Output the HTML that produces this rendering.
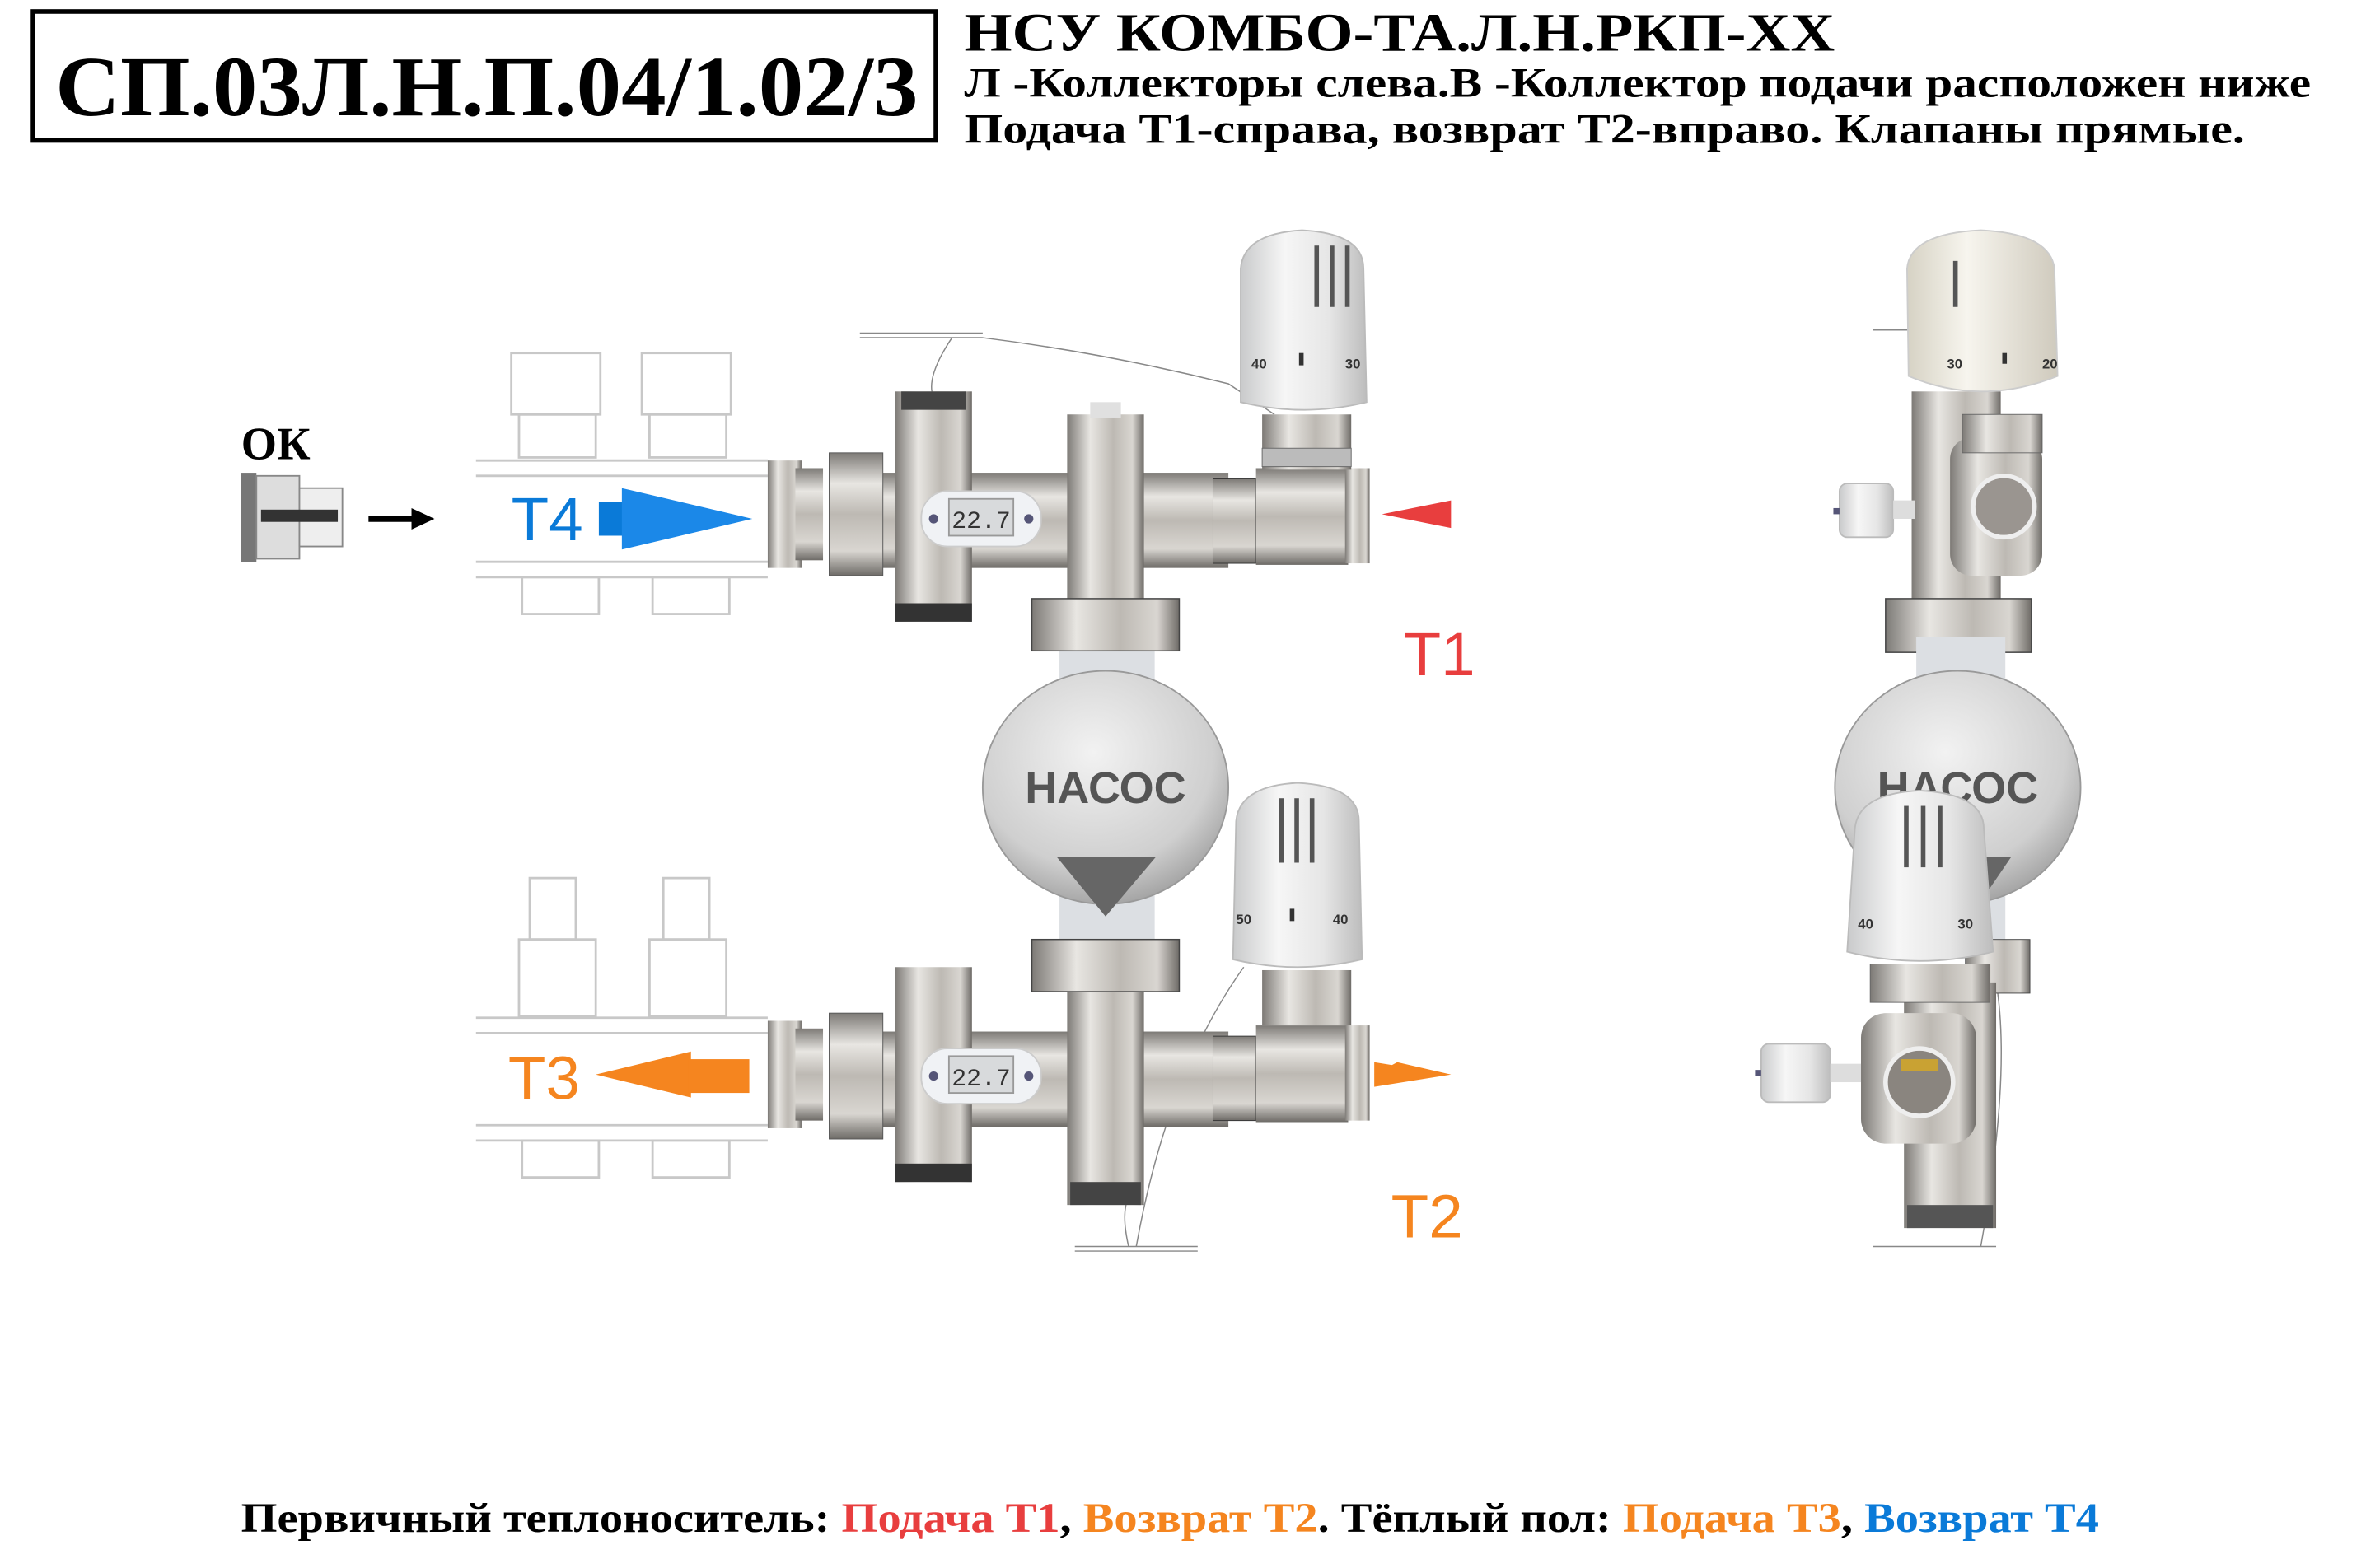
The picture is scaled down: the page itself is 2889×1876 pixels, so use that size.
<!DOCTYPE html>
<html><head><meta charset="utf-8"><style>
html,body{margin:0;padding:0;background:#fff;}
svg{display:block;}
</style></head><body>
<svg width="2889" height="1876" viewBox="0 0 1550 1006.5" preserveAspectRatio="none" xmlns="http://www.w3.org/2000/svg">
<defs>
<linearGradient id="mh" x1="0" y1="0" x2="0" y2="1">
<stop offset="0" stop-color="#7d7a76"/><stop offset="0.25" stop-color="#e8e6e2"/><stop offset="0.5" stop-color="#bdb9b3"/><stop offset="0.8" stop-color="#d9d6d1"/><stop offset="1" stop-color="#6e6b67"/></linearGradient>
<linearGradient id="mv" x1="0" y1="0" x2="1" y2="0">
<stop offset="0" stop-color="#7d7a76"/><stop offset="0.3" stop-color="#e8e6e2"/><stop offset="0.6" stop-color="#bdb9b3"/><stop offset="0.85" stop-color="#d9d6d1"/><stop offset="1" stop-color="#6e6b67"/></linearGradient>
<linearGradient id="wh" x1="0" y1="0" x2="1" y2="0">
<stop offset="0" stop-color="#c9cacb"/><stop offset="0.35" stop-color="#f6f6f6"/><stop offset="0.7" stop-color="#e6e6e6"/><stop offset="1" stop-color="#bdbdbd"/></linearGradient>
<linearGradient id="cr" x1="0" y1="0" x2="1" y2="0">
<stop offset="0" stop-color="#d6d2c4"/><stop offset="0.4" stop-color="#f7f5ee"/><stop offset="1" stop-color="#cfcabd"/></linearGradient>
<radialGradient id="sp" cx="0.45" cy="0.35" r="0.7">
<stop offset="0" stop-color="#f2f2f2"/><stop offset="0.7" stop-color="#cfcfcf"/><stop offset="1" stop-color="#9a9a9a"/></radialGradient>
</defs>

<!-- Header -->
<rect x="21.5" y="7.5" width="588" height="84" fill="#fff" stroke="#000" stroke-width="3"/>
<text x="36" y="75" font-family="Liberation Serif, serif" font-weight="bold" font-size="56" textLength="562" lengthAdjust="spacingAndGlyphs">СП.03Л.Н.П.04/1.02/3</text>
<text x="628" y="33" font-family="Liberation Serif, serif" font-weight="bold" font-size="35" textLength="567" lengthAdjust="spacingAndGlyphs">НСУ КОМБО-ТА.Л.Н.РКП-ХХ</text>
<text x="628" y="63" font-family="Liberation Serif, serif" font-weight="bold" font-size="27" textLength="877" lengthAdjust="spacingAndGlyphs">Л -Коллекторы слева.В -Коллектор подачи расположен ниже</text>
<text x="628" y="93" font-family="Liberation Serif, serif" font-weight="bold" font-size="27" textLength="834" lengthAdjust="spacingAndGlyphs">Подача Т1-справа, возврат Т2-вправо. Клапаны прямые.</text>

<!-- OK -->
<text x="157" y="299" font-family="Liberation Serif, serif" font-weight="bold" font-size="30">ОК</text>
<rect x="157" y="308" width="10" height="58" fill="#777"/>
<rect x="167" y="310" width="28" height="54" fill="#ddd" stroke="#888"/>
<rect x="195" y="318" width="28" height="38" fill="#eee" stroke="#888"/>
<rect x="170" y="332" width="50" height="8" fill="#333"/>
<line x1="240" y1="338" x2="270" y2="338" stroke="#000" stroke-width="4"/>
<polygon points="268,331 283,338 268,345" fill="#000"/>

<!-- faint collectors -->
<g fill="none" stroke="#c8c8c8" stroke-width="1.5">
<rect x="333" y="230" width="58" height="40"/><rect x="338" y="270" width="50" height="28"/>
<rect x="418" y="230" width="58" height="40"/><rect x="423" y="270" width="50" height="28"/>
<line x1="310" y1="300" x2="500" y2="300"/><line x1="310" y1="310" x2="500" y2="310"/>
<line x1="310" y1="366" x2="500" y2="366"/><line x1="310" y1="376" x2="500" y2="376"/>
<rect x="340" y="376" width="50" height="24"/><rect x="425" y="376" width="50" height="24"/>
<rect x="345" y="572" width="30" height="40"/><rect x="338" y="612" width="50" height="50"/>
<rect x="432" y="572" width="30" height="40"/><rect x="423" y="612" width="50" height="50"/>
<line x1="310" y1="663" x2="500" y2="663"/><line x1="310" y1="673" x2="500" y2="673"/>
<line x1="310" y1="733" x2="500" y2="733"/><line x1="310" y1="743" x2="500" y2="743"/>
<rect x="340" y="743" width="50" height="24"/><rect x="425" y="743" width="50" height="24"/>
</g>

<!-- T4 / T3 labels + arrows -->
<text x="333" y="352" font-family="Liberation Sans, sans-serif" font-size="40" fill="#0a7ad8">T4</text>
<rect x="390" y="327" width="20" height="22" fill="#0a7ad8"/>
<polygon points="405,318 490,338 405,358" fill="#1b88e8"/>
<text x="331" y="716" font-family="Liberation Sans, sans-serif" font-size="40" fill="#f5851f">T3</text>
<polygon points="388,700 450,685 450,715" fill="#f5851f"/>
<rect x="448" y="690" width="40" height="22" fill="#f5851f"/>
<polygon points="900,335 945,326 945,344" fill="#e83e3e"/>
<polygon points="895,700 945,700 910,692" fill="#f5851f"/>
<polygon points="895,692 945,700 895,708" fill="#f5851f"/>
<text x="914" y="440" font-family="Liberation Sans, sans-serif" font-size="40" fill="#e83e3e">T1</text>
<text x="906" y="806" font-family="Liberation Sans, sans-serif" font-size="40" fill="#f5851f">T2</text>

<!-- wires -->
<g fill="none" stroke="#888" stroke-width="0.8">
<path d="M560 220 L640 220 M560 217 L640 217 M620 220 Q600 250 610 262 M640 220 Q720 230 800 250 L830 270"/>
<path d="M700 812 L780 812 M700 815 L780 815 M735 812 Q730 790 735 780 M740 812 Q760 700 810 630"/>
<path d="M1220 215 L1250 215 M1220 812 L1300 812 M1290 812 Q1310 700 1300 640"/>
</g>

<!-- pump pipe -->
<rect x="690" y="415" width="62" height="210" fill="#dcdfe3"/>
<ellipse cx="720" cy="513" rx="80" ry="76" fill="url(#sp)" stroke="#999" stroke-width="1"/>
<text x="720" y="523" text-anchor="middle" font-family="Liberation Sans, sans-serif" font-weight="bold" font-size="29" fill="#555">НАСОС</text>
<polygon points="688,558 753,558 720,597" fill="#666"/>

<!-- upper manifold -->
<rect x="560" y="308" width="240" height="62" fill="url(#mh)"/>
<rect x="500" y="300" width="22" height="70" fill="url(#mv)"/>
<rect x="518" y="305" width="18" height="60" fill="url(#mh)"/>
<rect x="540" y="295" width="35" height="80" fill="url(#mh)" stroke="#555" stroke-width="0.5"/>
<rect x="583" y="255" width="50" height="150" fill="url(#mv)"/>
<rect x="587" y="255" width="42" height="12" fill="#444"/>
<rect x="583" y="393" width="50" height="12" fill="#333"/>
<rect x="695" y="270" width="50" height="150" fill="url(#mv)"/>
<rect x="710" y="262" width="20" height="10" fill="#e0e0e0"/>
<rect x="672" y="390" width="96" height="34" fill="url(#mv)" stroke="#444" stroke-width="0.8"/>
<rect x="600" y="320" width="78" height="36" rx="17" fill="#f0f2f5" stroke="#ccc"/>
<rect x="618" y="325" width="42" height="24" fill="#d8dadc" stroke="#999"/>
<text x="639" y="344" text-anchor="middle" font-family="Liberation Mono, monospace" font-size="16" fill="#333">22.7</text>
<circle cx="608" cy="338" r="3" fill="#557"/><circle cx="670" cy="338" r="3" fill="#557"/>
<rect x="790" y="312" width="28" height="55" fill="url(#mh)" stroke="#333" stroke-width="0.5"/>
<rect x="818" y="305" width="60" height="63" fill="url(#mh)"/>
<rect x="876" y="305" width="16" height="62" fill="url(#mv)"/>
<rect x="822" y="270" width="58" height="36" fill="url(#mv)"/>
<rect x="822" y="292" width="58" height="12" fill="#bbb" stroke="#666" stroke-width="0.5"/>
<path d="M808 175 Q810 152 848 150 Q888 152 888 175 L890 262 Q850 272 808 262 Z" fill="url(#wh)" stroke="#bbb"/>
<rect x="856" y="160" width="3" height="40" fill="#555"/><rect x="866" y="160" width="3" height="40" fill="#555"/><rect x="876" y="160" width="3" height="40" fill="#555"/>
<text x="815" y="240" font-family="Liberation Sans, sans-serif" font-weight="bold" font-size="9" fill="#333">40</text>
<text x="876" y="240" font-family="Liberation Sans, sans-serif" font-weight="bold" font-size="9" fill="#333">30</text>
<rect x="846" y="230" width="3" height="8" fill="#333"/>

<!-- lower manifold -->
<rect x="560" y="672" width="240" height="62" fill="url(#mh)"/>
<rect x="500" y="665" width="22" height="70" fill="url(#mv)"/>
<rect x="518" y="670" width="18" height="60" fill="url(#mh)"/>
<rect x="540" y="660" width="35" height="82" fill="url(#mh)" stroke="#555" stroke-width="0.5"/>
<rect x="583" y="630" width="50" height="140" fill="url(#mv)"/>
<rect x="583" y="758" width="50" height="12" fill="#333"/>
<rect x="695" y="640" width="50" height="145" fill="url(#mv)"/>
<rect x="697" y="770" width="46" height="15" fill="#444"/>
<rect x="672" y="612" width="96" height="34" fill="url(#mv)" stroke="#444" stroke-width="0.8"/>
<rect x="600" y="683" width="78" height="36" rx="17" fill="#f0f2f5" stroke="#ccc"/>
<rect x="618" y="688" width="42" height="24" fill="#d8dadc" stroke="#999"/>
<text x="639" y="707" text-anchor="middle" font-family="Liberation Mono, monospace" font-size="16" fill="#333">22.7</text>
<circle cx="608" cy="701" r="3" fill="#557"/><circle cx="670" cy="701" r="3" fill="#557"/>
<rect x="790" y="675" width="28" height="55" fill="url(#mh)" stroke="#333" stroke-width="0.5"/>
<rect x="818" y="668" width="60" height="63" fill="url(#mh)"/>
<rect x="876" y="668" width="16" height="62" fill="url(#mv)"/>
<rect x="822" y="632" width="58" height="36" fill="url(#mv)"/>
<path d="M805 535 Q807 512 845 510 Q885 512 885 535 L887 625 Q845 635 803 625 Z" fill="url(#wh)" stroke="#bbb"/>
<rect x="833" y="520" width="3" height="42" fill="#555"/><rect x="843" y="520" width="3" height="42" fill="#555"/><rect x="853" y="520" width="3" height="42" fill="#555"/>
<text x="805" y="602" font-family="Liberation Sans, sans-serif" font-weight="bold" font-size="9" fill="#333">50</text>
<text x="868" y="602" font-family="Liberation Sans, sans-serif" font-weight="bold" font-size="9" fill="#333">40</text>
<rect x="840" y="592" width="3" height="8" fill="#333"/>

<!-- right side view -->
<rect x="1245" y="255" width="58" height="170" fill="url(#mv)"/>
<rect x="1228" y="390" width="95" height="35" fill="url(#mv)" stroke="#444" stroke-width="0.8"/>
<rect x="1270" y="285" width="60" height="90" rx="14" fill="url(#mv)"/>
<circle cx="1305" cy="330" r="20" fill="#9a9590" stroke="#eee" stroke-width="3"/>
<rect x="1278" y="270" width="52" height="25" fill="url(#mv)" stroke="#666" stroke-width="0.5"/>
<rect x="1198" y="315" width="35" height="35" rx="5" fill="url(#wh)" stroke="#bbb"/>
<rect x="1233" y="326" width="14" height="12" fill="#ddd"/>
<rect x="1194" y="331" width="4" height="4" fill="#557"/>
<path d="M1242 175 Q1244 152 1290 150 Q1335 152 1338 175 L1340 245 Q1290 265 1243 245 Z" fill="url(#cr)" stroke="#ccc"/>
<text x="1268" y="240" font-family="Liberation Sans, sans-serif" font-weight="bold" font-size="9" fill="#333">30</text>
<text x="1330" y="240" font-family="Liberation Sans, sans-serif" font-weight="bold" font-size="9" fill="#333">20</text>
<rect x="1304" y="230" width="3" height="7" fill="#333"/>
<rect x="1272" y="170" width="3" height="30" fill="#555"/>
<rect x="1248" y="415" width="58" height="210" fill="#dcdfe3"/>
<ellipse cx="1275" cy="513" rx="80" ry="76" fill="url(#sp)" stroke="#999" stroke-width="1"/>
<text x="1275" y="523" text-anchor="middle" font-family="Liberation Sans, sans-serif" font-weight="bold" font-size="29" fill="#555">НАСОС</text>
<polygon points="1280,558 1310,558 1295,580" fill="#666"/>
<rect x="1280" y="612" width="42" height="35" fill="url(#mv)" stroke="#444" stroke-width="0.5"/>
<rect x="1240" y="640" width="60" height="160" fill="url(#mv)"/>
<rect x="1212" y="660" width="75" height="85" rx="16" fill="url(#mv)"/>
<circle cx="1250" cy="705" r="22" fill="#8a857f" stroke="#eee" stroke-width="3"/>
<rect x="1238" y="690" width="24" height="8" fill="#c9a233"/>
<rect x="1218" y="628" width="78" height="25" fill="url(#mv)" stroke="#666" stroke-width="0.5"/>
<path d="M1208 540 Q1210 517 1250 515 Q1292 517 1292 540 L1298 620 Q1250 632 1203 620 Z" fill="url(#wh)" stroke="#bbb"/>
<rect x="1240" y="525" width="3" height="40" fill="#555"/><rect x="1251" y="525" width="3" height="40" fill="#555"/><rect x="1262" y="525" width="3" height="40" fill="#555"/>
<text x="1210" y="605" font-family="Liberation Sans, sans-serif" font-weight="bold" font-size="9" fill="#333">40</text>
<text x="1275" y="605" font-family="Liberation Sans, sans-serif" font-weight="bold" font-size="9" fill="#333">30</text>
<rect x="1147" y="680" width="45" height="38" rx="5" fill="url(#wh)" stroke="#bbb"/>
<rect x="1192" y="693" width="20" height="12" fill="#ddd"/>
<rect x="1143" y="697" width="4" height="4" fill="#557"/>
<rect x="1242" y="785" width="56" height="15" fill="#555"/>

<!-- bottom legend -->
<text x="157" y="998" font-family="Liberation Serif, serif" font-weight="bold" font-size="27" textLength="1210" lengthAdjust="spacingAndGlyphs"><tspan fill="#000">Первичный теплоноситель: </tspan><tspan fill="#e83e3e">Подача Т1</tspan><tspan fill="#000">, </tspan><tspan fill="#f5851f">Возврат Т2</tspan><tspan fill="#000">. Тёплый пол: </tspan><tspan fill="#f5851f">Подача Т3</tspan><tspan fill="#000">, </tspan><tspan fill="#0a7ad8">Возврат Т4</tspan></text>
</svg>
</body></html>
